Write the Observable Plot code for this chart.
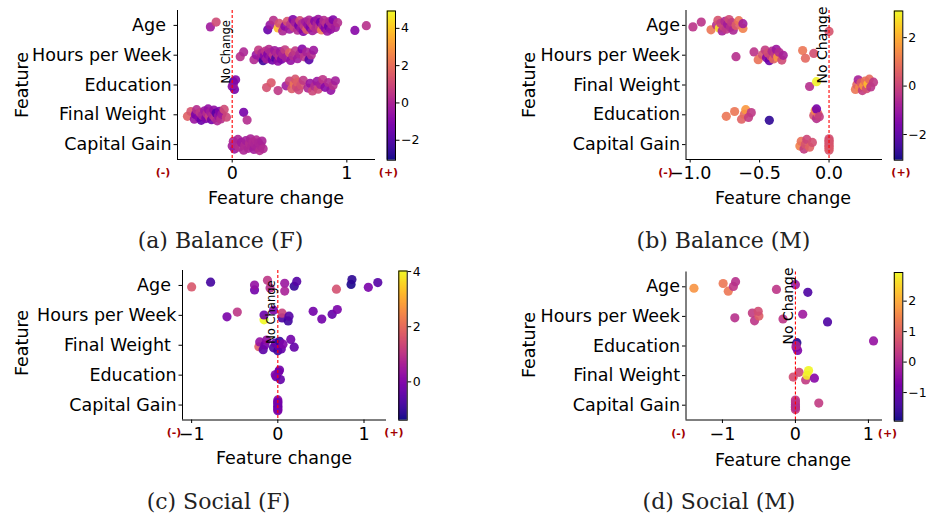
<!DOCTYPE html>
<html><head><meta charset="utf-8">
<script src="https://cdn.jsdelivr.net/npm/d3@7"></script>
<script src="https://cdn.jsdelivr.net/npm/@observablehq/plot@0.6"></script>
<style>
body{margin:0;background:#fff;}
#root{position:relative;width:926px;height:521px;overflow:hidden;background:#fff;}
#root svg{position:absolute;left:0;top:0;}
</style></head><body><div id="root"></div>
<script>
// ---------- DATA ----------
// each point: [feature index, feature change, colour value]
const balanceF_features = ["Age","Hours per Week","Education","Final Weight","Capital Gain"];
const balanceF_labels = ["Age\u00a0","Hours per Week","Education","Final Weight\u00a0","Capital Gain"];
const balanceF_points = [
 [0,-0.19,-0.3],[0,-0.14,1.0],[0,0.31,-1.5],[0,0.33,-0.5],[0,0.36,0.3],[0,0.40,3.8],[0,0.41,1.2],[0,0.44,0.0],[0,0.46,-0.8],[0,0.48,1.3],
 [0,0.50,-0.3],[0,0.51,0.4],[0,0.53,-1.0],[0,0.54,0.8],[0,0.55,-0.2],[0,0.57,0.2],[0,0.58,-1.2],[0,0.59,1.0],[0,0.60,-0.4],[0,0.61,0.1],
 [0,0.62,-0.9],[0,0.63,0.6],[0,0.64,-0.2],[0,0.65,1.5],[0,0.66,-0.6],[0,0.67,0.0],[0,0.68,-1.1],[0,0.69,0.3],[0,0.70,-0.3],[0,0.71,0.7],
 [0,0.72,-0.8],[0,0.73,0.1],[0,0.74,0.0],[0,0.75,-0.5],[0,0.76,0.5],[0,0.77,-1.3],[0,0.78,2.3],[0,0.79,-0.2],[0,0.80,0.2],[0,0.81,-0.9],
 [0,0.82,0.4],[0,0.83,-0.4],[0,0.84,-1.4],[0,0.85,0.1],[0,0.86,-0.6],[0,0.87,0.0],[0,0.88,-1.0],[0,0.90,-0.3],[0,0.92,0.2],[0,1.07,-0.9],[0,1.17,0.3],
 [1,0.07,0.3],[1,0.10,0.0],[1,0.19,0.1],[1,0.21,-0.5],[1,0.23,0.6],[1,0.25,-0.3],[1,0.26,0.0],[1,0.27,-2.3],[1,0.28,-0.8],[1,0.29,0.4],
 [1,0.30,-0.2],[1,0.31,-1.0],[1,0.32,0.2],[1,0.33,-0.5],[1,0.34,0.0],[1,0.35,-1.3],[1,0.36,0.5],[1,0.37,-0.3],[1,0.38,-2.0],[1,0.39,0.1],
 [1,0.40,-0.7],[1,0.41,0.3],[1,0.42,-0.4],[1,0.43,-1.1],[1,0.44,0.0],[1,0.46,0.6],[1,0.47,-0.2],[1,0.50,1.6],[1,0.51,-0.6],[1,0.53,0.2],
 [1,0.55,0.5],[1,0.57,-0.3],[1,0.59,0.0],[1,0.61,-0.9],[1,0.63,0.4],[1,0.65,-0.1],[1,0.67,-1.8],[1,0.69,0.2],[1,0.71,-0.4],
 [2,0.00,-0.8],[2,0.01,-2.6],[2,0.02,-1.2],[2,0.01,-0.5],[2,0.03,-1.0],[2,0.30,1.2],[2,0.34,1.4],[2,0.40,0.5],[2,0.47,-0.3],[2,0.50,0.8],
 [2,0.52,1.5],[2,0.54,2.2],[2,0.55,1.3],[2,0.56,1.0],[2,0.57,1.6],[2,0.58,0.9],[2,0.60,1.2],[2,0.62,0.5],[2,0.66,0.0],[2,0.68,-0.5],
 [2,0.70,0.9],[2,0.72,0.2],[2,0.74,-0.4],[2,0.75,1.0],[2,0.77,-0.2],[2,0.79,0.4],[2,0.81,-0.8],[2,0.84,0.1],[2,0.86,-0.6],[2,0.88,0.3],[2,0.90,-0.2],
 [3,-0.39,1.6],[3,-0.36,1.3],[3,-0.33,-0.5],[3,-0.32,-1.2],[3,-0.31,0.2],[3,-0.29,-0.8],[3,-0.28,0.5],[3,-0.27,-1.5],[3,-0.26,0.0],[3,-0.24,-0.4],
 [3,-0.23,-1.0],[3,-0.22,0.3],[3,-0.21,-0.6],[3,-0.20,0.8],[3,-0.19,-0.2],[3,-0.18,-1.3],[3,-0.17,0.1],[3,-0.16,-0.7],[3,-0.15,0.4],[3,-0.14,-1.8],
 [3,-0.13,0.0],[3,-0.12,-0.5],[3,-0.11,-1.0],[3,-0.10,0.3],[3,-0.09,-0.3],[3,-0.07,1.0],[3,-0.05,0.9],[3,0.10,-1.2],[3,0.13,0.2],
 [4,0.00,-0.2],[4,0.01,0.0],[4,0.02,-0.4],[4,0.03,0.1],[4,0.05,-0.1],[4,0.06,0.2],[4,0.08,-0.3],[4,0.10,0.0],[4,0.11,0.1],[4,0.12,-0.2],
 [4,0.14,0.0],[4,0.15,0.2],[4,0.16,-0.1],[4,0.17,0.0],[4,0.18,0.1],[4,0.19,-0.2],[4,0.20,0.0],[4,0.21,0.1],[4,0.22,-0.1],[4,0.23,0.0],
 [4,0.24,0.2],[4,0.25,0.0],[4,0.26,-0.1],[4,0.27,0.1]
];
const balanceF_xTicks = [0, 1];
const balanceF_cTicks = [-2, 0, 2, 4];

const balanceM_features = ["Age","Hours per Week","Final Weight","Education","Capital Gain"];
const balanceM_labels = ["Age","Hours per Week","Final Weight","Education","Capital Gain"];
const balanceM_points = [
 [0,-0.98,-0.4],[0,-0.92,-0.4],[0,-0.85,1.0],[0,-0.81,-0.5],[0,-0.80,0.3],[0,-0.79,2.8],[0,-0.78,-0.2],[0,-0.77,-0.8],[0,-0.76,0.0],[0,-0.75,-0.6],
 [0,-0.74,-0.3],[0,-0.73,-0.9],[0,-0.72,0.1],[0,-0.71,-0.5],[0,-0.70,-0.2],[0,-0.69,-0.7],[0,-0.67,0.5],[0,-0.65,1.0],[0,-0.62,1.2],[0,-0.62,-0.9],[0,0.00,0.3],
 [1,-0.67,-0.5],[1,-0.54,-0.4],[1,-0.51,0.9],[1,-0.48,0.3],[1,-0.46,-0.2],[1,-0.45,-1.4],[1,-0.44,0.2],[1,-0.43,-1.8],[1,-0.42,0.0],[1,-0.41,-0.6],
 [1,-0.40,0.6],[1,-0.39,-0.3],[1,-0.38,-1.0],[1,-0.37,1.6],[1,-0.36,-0.6],[1,-0.34,0.1],[1,-0.33,-0.8],[1,-0.19,1.0],[1,-0.17,0.7],[1,-0.11,0.2],
 [2,-0.14,-0.5],[2,-0.09,3.0],[2,0.19,1.0],[2,0.20,0.6],[2,0.21,-0.8],[2,0.22,1.3],[2,0.23,0.4],[2,0.24,-0.2],[2,0.25,1.6],[2,0.26,0.9],
 [2,0.27,0.2],[2,0.28,2.2],[2,0.29,0.8],[2,0.30,-0.4],[2,0.32,-0.3],
 [3,-0.74,1.0],[3,-0.68,1.0],[3,-0.63,0.6],[3,-0.61,0.8],[3,-0.60,1.6],[3,-0.58,-0.2],[3,-0.56,-0.3],[3,-0.43,-2.7],[3,-0.11,0.3],[3,-0.10,1.3],
 [3,-0.09,-0.5],[3,-0.08,0.8],[3,-0.09,-1.6],[3,-0.07,-0.2],
 [4,-0.21,1.2],[4,-0.20,0.9],[4,-0.18,-0.2],[4,-0.17,0.3],[4,-0.16,0.0],[4,-0.14,0.6],[4,-0.12,0.2],
 [4,0.00,0.3],[4,0.00,0.4],[4,0.00,0.2],[4,0.00,0.5],[4,0.00,0.3],[4,0.00,0.2],[4,0.00,0.4],[4,0.00,0.3]
];
const balanceM_xTicks = [-1, -0.5, 0];
const balanceM_cTicks = [-2, 0, 2];

const socialF_features = ["Age","Hours per Week","Final Weight","Education","Capital Gain"];
const socialF_labels = ["Age\u00a0","Hours per Week","Final Weight\u00a0","Education","Capital Gain"];
const socialF_points = [
 [0,-1.00,1.6],[0,-0.78,-0.8],[0,-0.27,-0.2],[0,-0.27,0.3],[0,-0.12,1.0],[0,-0.09,0.8],[0,0.08,0.4],[0,0.08,0.6],[0,0.19,-1.0],[0,0.22,-0.6],
 [0,0.68,1.5],[0,0.85,-1.3],[0,0.86,-1.1],[0,1.05,-0.1],[0,1.16,-0.6],
 [1,-0.59,-0.1],[1,-0.47,1.0],[1,-0.16,4.0],[1,-0.16,-0.3],[1,-0.05,0.0],[1,0.05,-0.7],[1,0.05,1.2],[1,0.12,-0.9],[1,0.13,-0.6],[1,0.41,-0.2],
 [1,0.51,-0.2],[1,0.63,-0.4],[1,0.69,-0.1],
 [2,-0.22,1.8],[2,-0.21,0.3],[2,-0.17,-0.5],[2,-0.15,-0.2],[2,-0.13,0.2],[2,-0.05,-0.7],[2,-0.03,-0.3],[2,0.00,-0.9],[2,0.01,-0.2],[2,0.02,-1.0],
 [2,0.04,-0.4],[2,0.06,0.0],[2,0.15,-0.2],[2,0.19,-0.4],
 [3,-0.02,-0.3],[3,0.01,-0.1],[3,0.03,-0.4],[3,-0.03,0.0],[3,0.02,-0.2],
 [4,0.00,-0.2],[4,0.00,-0.3],[4,0.00,-0.1],[4,0.00,-0.2],[4,0.00,0.0],[4,0.00,-0.3],[4,0.00,-0.2],[4,0.00,-0.1]
];
const socialF_xTicks = [-1, 0, 1];
const socialF_cTicks = [0, 2, 4];

const socialM_features = ["Age","Hours per Week","Education","Final Weight","Capital Gain"];
const socialM_labels = ["Age","Hours per Week","Education","Final Weight","Capital Gain"];
const socialM_points = [
 [0,-1.39,1.7],[0,-0.99,1.3],[0,-0.92,1.3],[0,-0.85,0.2],[0,-0.82,0.1],[0,-0.26,0.2],[0,0.00,-0.3],[0,0.17,-1.3],
 [1,-0.83,0.1],[1,-0.59,0.3],[1,-0.56,0.2],[1,-0.50,0.9],[1,-0.51,0.6],[1,-0.17,0.2],[1,0.10,-0.3],[1,0.44,-1.3],
 [2,0.01,-0.4],[2,0.02,-1.8],[2,0.03,-0.7],[2,0.01,-0.1],[2,1.07,-0.4],
 [3,-0.03,0.6],[3,0.05,0.5],[3,0.14,0.3],[3,0.16,2.8],[3,0.18,2.9],[3,0.26,-0.6],
 [4,0.00,0.2],[4,0.00,0.1],[4,0.00,0.3],[4,0.00,0.0],[4,0.00,0.2],[4,0.00,0.1],[4,0.32,0.3]
];
const socialM_xTicks = [-1, 0, 1];
const socialM_cTicks = [-1, 0, 1, 2];

// ---------- LAYOUT ----------
const W = 926, H = 521;
const root = d3.select("#root").node();
const baseStyle = {background: "transparent", fontFamily: "DejaVu Sans", fontSize: "17.5px", color: "black"};

function withJitter(points) {
  const counts = {};
  return points.map(([f, x, c]) => {
    const i = counts[f] = (counts[f] ?? -1) + 1;
    const j = (((i + 1) * 0.6180339887) % 1 - 0.5) * 0.42;
    return {f, x, c, j};
  });
}

function panel(cfg) {
  const {features, labels, points, frame, xDomain, xTicks, xFormat, cDomain, ncSize} = cfg;
  const data = withJitter(points);
  const n = features.length;
  return Plot.plot({
    width: W, height: H,
    marginLeft: frame[0], marginRight: W - frame[1], marginTop: frame[2], marginBottom: H - frame[3],
    style: baseStyle,
    x: {domain: xDomain},
    y: {domain: [n - 0.5, -0.5]},
    color: {type: "linear", scheme: "plasma", domain: cDomain},
    marks: [
      Plot.dot(data, {x: "x", y: d => d.f + d.j, fill: "c", r: 4.6, fillOpacity: 0.9}),
      Plot.ruleX([0], {stroke: "red", strokeDasharray: "3,2", strokeWidth: 1.1}),
      Plot.text(["No Change"], {x: () => 0, y: () => 1.95, rotate: -90, textAnchor: "start", lineAnchor: "bottom",
        fontSize: ncSize, dx: -2.5, fill: "black", fontFamily: "DejaVu Sans"}),
      Plot.ruleX([xDomain[0]], {stroke: "black", strokeWidth: 1}),
      Plot.ruleY([n - 0.5], {stroke: "black", strokeWidth: 1}),
      Plot.axisX({ticks: xTicks, tickFormat: d3.format(xFormat), tickSize: 3.5, tickPadding: 4, label: null}),
      Plot.axisY({ticks: d3.range(n), tickFormat: i => labels[i], tickSize: 3.5, tickPadding: 2.5, label: null})
    ]
  });
}

function colorbar(cfg) {
  const {box, domain, ticks} = cfg;
  const [lo, hi] = domain;
  const k = 150, s = (hi - lo) / k;
  const steps = d3.range(k).map(i => lo + s * i);
  return Plot.plot({
    width: W, height: H,
    marginLeft: box[0], marginRight: W - box[1], marginTop: box[2], marginBottom: H - box[3],
    style: baseStyle,
    x: {domain: [0, 1], axis: null},
    y: {domain: [lo, hi]},
    color: {type: "linear", scheme: "plasma", domain: [lo, hi]},
    marks: [
      Plot.rect(steps, {x1: () => 0, x2: () => 1, y1: d => d, y2: d => Math.min(hi, d + s * 1.6), fill: d => d + s / 2}),
      Plot.frame({stroke: "black", strokeWidth: 1}),
      Plot.axisY({anchor: "right", ticks, tickFormat: d3.format("d"), tickSize: 3.5, tickPadding: 2, fontSize: 12.5, label: null})
    ]
  });
}

const panels = [
  {features: balanceF_features, labels: balanceF_labels, points: balanceF_points, frame: [177, 375, 10, 159],
   xDomain: [-0.477, 1.25], xTicks: balanceF_xTicks, xFormat: "d", cDomain: [-3.07, 4.93], ncSize: 11.5,
   cb: {box: [386.7, 395, 10.5, 159.7], domain: [-3.07, 4.93], ticks: balanceF_cTicks}},
  {features: balanceM_features, labels: balanceM_labels, points: balanceM_points, frame: [685.5, 882, 10, 159],
   xDomain: [-1.03, 0.385], xTicks: balanceM_xTicks, xFormat: ".1f", cDomain: [-3.06, 3.1], ncSize: 14,
   cb: {box: [893.8, 902.3, 10.5, 159.7], domain: [-3.06, 3.1], ticks: balanceM_cTicks}},
  {features: socialF_features, labels: socialF_labels, points: socialF_points, frame: [182, 386, 270, 419.5],
   xDomain: [-1.106, 1.261], xTicks: socialF_xTicks, xFormat: "d", cDomain: [-1.39, 4.02], ncSize: 11.5,
   cb: {box: [398.3, 406.7, 270.5, 419.7], domain: [-1.39, 4.02], ticks: socialF_cTicks}},
  {features: socialM_features, labels: socialM_labels, points: socialM_points, frame: [685.5, 882, 271.5, 419.5],
   xDomain: [-1.499, 1.193], xTicks: socialM_xTicks, xFormat: "d", cDomain: [-1.94, 2.94], ncSize: 14,
   cb: {box: [893.8, 902.3, 272, 420.7], domain: [-1.94, 2.94], ticks: socialM_cTicks}}
];

for (const p of panels) {
  root.appendChild(panel(p));
  root.appendChild(colorbar(p.cb));
}

// ---------- ANNOTATIONS ----------
const ann = d3.select(root).append("svg").attr("width", W).attr("height", H)
  .style("font-family", "DejaVu Sans");
const yLabels = [[28, 85], [535, 85], [28, 343], [535, 345]];
for (const [x, y] of yLabels)
  ann.append("text").attr("transform", `translate(${x},${y}) rotate(-90)`).attr("text-anchor", "middle")
    .attr("font-size", 17.5).text("Feature");
const xLabels = [[276, 204], [783, 204], [284, 464], [783, 465.5]];
for (const [x, y] of xLabels)
  ann.append("text").attr("x", x).attr("y", y).attr("text-anchor", "middle").attr("font-size", 17.5).text("Feature change");
const signs = [[163, 175.5, "(-)"], [388.5, 175.5, "(+)"], [665.5, 175.5, "(-)"], [901, 175.5, "(+)"],
               [174, 435.5, "(-)"], [394, 435.5, "(+)"], [678.5, 436.5, "(-)"], [887.5, 436.5, "(+)"]];
for (const [x, y, t] of signs)
  ann.append("text").attr("x", x).attr("y", y).attr("text-anchor", "middle").attr("font-size", 11)
    .attr("font-weight", "bold").attr("fill", "#a10000").text(t);
const captions = [[220.5, 248, "(a) Balance (F)"], [723.5, 248, "(b) Balance (M)"],
                  [218.5, 509, "(c) Social (F)"], [719, 509, "(d) Social (M)"]];
for (const [x, y, t] of captions)
  ann.append("text").attr("x", x).attr("y", y).attr("text-anchor", "middle").attr("font-size", 22)
    .attr("font-family", "DejaVu Serif").attr("fill", "#222").text(t);
</script>
</body></html>
